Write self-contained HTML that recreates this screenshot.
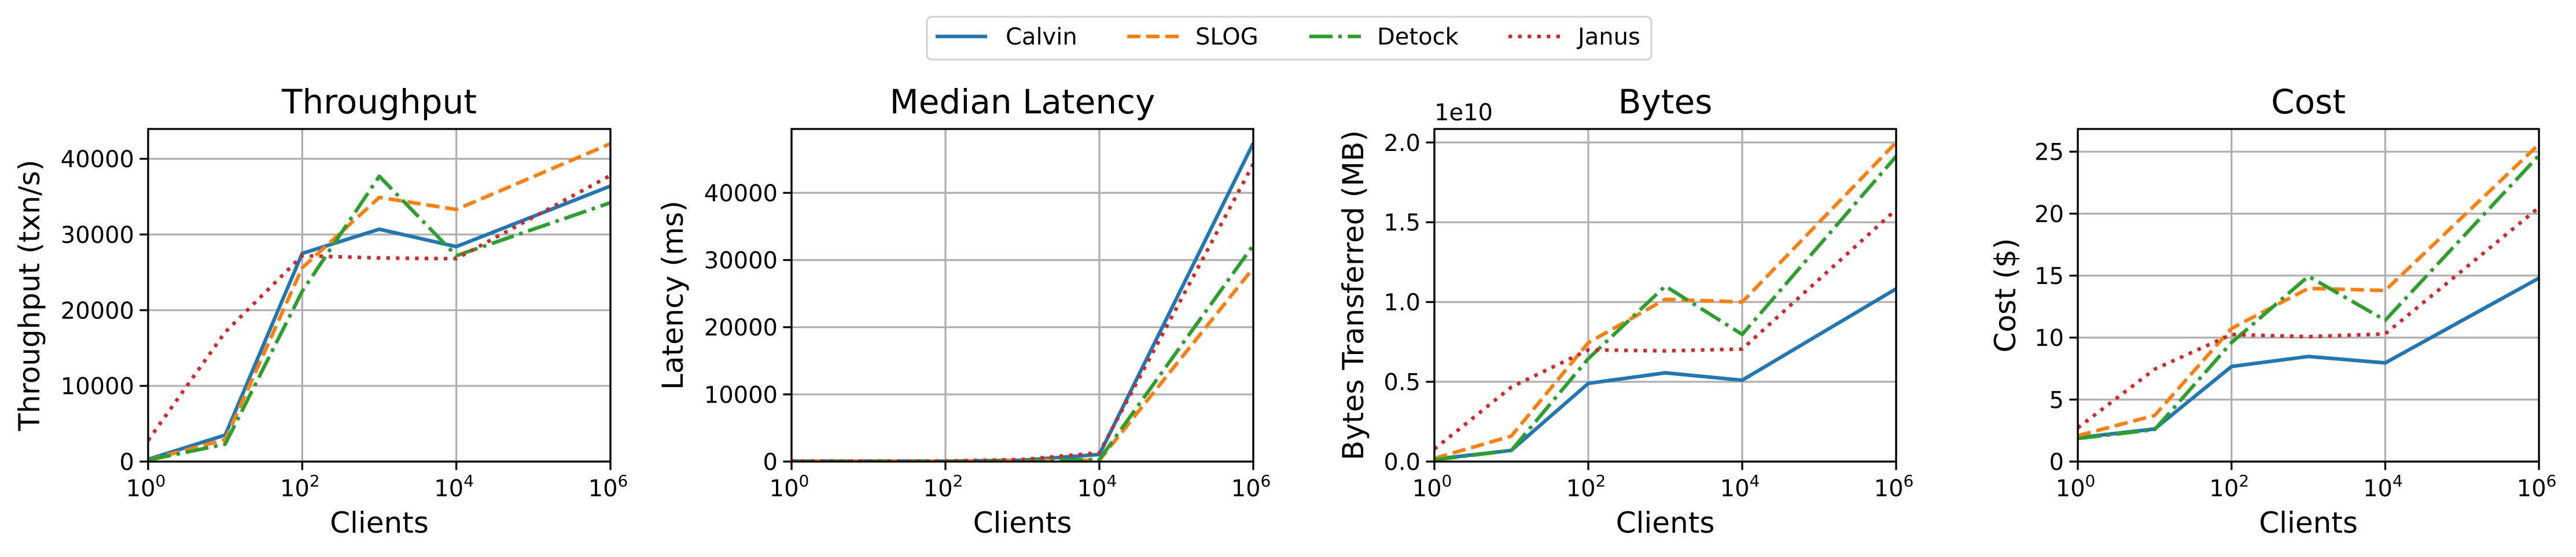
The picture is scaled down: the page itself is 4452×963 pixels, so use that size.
<!DOCTYPE html>
<html><head><meta charset="utf-8">
<style>
html,body{margin:0;padding:0;background:#fff;}
svg{display:block;font-family:"DejaVu Sans","Liberation Sans",sans-serif;}
</style></head>
<body>
<svg id="fig" width="4452" height="963" viewBox="0 0 4452 963" xmlns="http://www.w3.org/2000/svg">
<rect width="4452" height="963" fill="#fff"/>
<g id="legend">
  <rect x="1602" y="29" width="1252" height="74" rx="8" fill="#fff" stroke="#d4d4d4" stroke-width="3.3"/>
</g>
</svg>
<script>
const NS="http://www.w3.org/2000/svg";
const svg=document.getElementById('fig');
const clients=[1,10,100,1000,10000,1000000];
const seriesNames=["Calvin","SLOG","Detock","Janus"];
const thrCalvin=[300,3500,27500,30700,28400,36400];
const thrSlog=[200,2900,25600,34900,33300,42000];
const thrDetock=[200,2300,22500,37700,27200,34200];
const thrJanus=[2800,17100,27200,26900,26800,37800];
const latCalvin=[60,60,70,200,1050,47400];
const latSlog=[50,50,60,150,200,28800];
const latDetock=[50,50,60,150,300,32200];
const latJanus=[60,60,80,300,1300,44300];
const bytCalvin=[0.015,0.07,0.49,0.556,0.51,1.083];
const bytSlog=[0.02,0.16,0.745,1.017,1.0,2.0];
const bytDetock=[0.01,0.07,0.645,1.10,0.797,1.913];
const bytJanus=[0.078,0.467,0.70,0.694,0.705,1.58];
const costCalvin=[1.92,2.63,7.67,8.48,7.96,14.8];
const costSlog=[2.09,3.72,10.74,13.97,13.8,25.6];
const costDetock=[1.86,2.58,9.6,14.95,11.4,24.7];
const costJanus=[2.72,7.45,10.25,10.08,10.3,20.5];
const thrTicks=[0,10000,20000,30000,40000];
const thrTickLabels=["0","10000","20000","30000","40000"];
const latTicks=[0,10000,20000,30000,40000];
const latTickLabels=["0","10000","20000","30000","40000"];
const bytTicks=[0,0.5,1.0,1.5,2.0];
const bytTickLabels=["0.0","0.5","1.0","1.5","2.0"];
const costTicks=[0,5,10,15,20,25];
const costTickLabels=["0","5","10","15","20","25"];
const xTickExps=[0,2,4,6];

const colors=["#1f77b4","#ff7f0e","#2ca02c","#d62728"];
const dashes=["","23,10","40,10,6.25,10","6.25,10.3"];
const TOP=223,BOT=798;

function el(tag,attrs,parent){const e=document.createElementNS(NS,tag);for(const k in attrs)e.setAttribute(k,attrs[k]);(parent||svg).appendChild(e);return e;}

const panels=[
 {key:"throughput",title:"Throughput",ylabel:"Throughput (txn/s)",left:256,right:1055,ymax:43940,ticks:thrTicks,tl:thrTickLabels,data:[thrCalvin,thrSlog,thrDetock,thrJanus],ylx:51},
 {key:"latency",title:"Median Latency",ylabel:"Latency (ms)",left:1368,right:2166,ymax:49510,ticks:latTicks,tl:latTickLabels,data:[latCalvin,latSlog,latDetock,latJanus],ylx:1163},
 {key:"bytes",title:"Bytes",ylabel:"Bytes Transferred (MB)",left:2479,right:3277,ymax:2.0845,ticks:bytTicks,tl:bytTickLabels,data:[bytCalvin,bytSlog,bytDetock,bytJanus],ylx:2339,offset:"1e10"},
 {key:"cost",title:"Cost",ylabel:"Cost ($)",left:3591,right:4388,ymax:26.83,ticks:costTicks,tl:costTickLabels,data:[costCalvin,costSlog,costDetock,costJanus],ylx:3466}
];

panels.forEach(p=>{
  const g=el('g',{});
  
  
  const xs=v=>p.left+(Math.log10(v)/6)*(p.right-p.left);
  const ys=v=>BOT-(v/p.ymax)*(BOT-TOP);
  // grid
  xTickExps.forEach(e=>{
    const x=xs(Math.pow(10,e));
    const l=el('line',{x1:x,x2:x,y1:TOP,y2:BOT,stroke:"#b0b0b0","stroke-width":3.3},g);
    
    
  });
  p.ticks.forEach(t=>{
    const y=ys(t);
    const l=el('line',{x1:p.left,x2:p.right,y1:y,y2:y,stroke:"#b0b0b0","stroke-width":3.3},g);
    
    
  });
  // series
  const cp=el('clipPath',{id:'clip-'+p.key},g);
  el('rect',{x:p.left,y:TOP,width:p.right-p.left,height:BOT-TOP},cp);
  p.data.forEach((arr,i)=>{
    const pts=arr.map((v,j)=>xs(clients[j]).toFixed(1)+","+ys(v).toFixed(1)).join(" ");
    const a={points:pts,fill:"none",stroke:colors[i],"stroke-width":6.25,"stroke-linejoin":"round","clip-path":"url(#clip-"+p.key+")"};
    if(dashes[i])a["stroke-dasharray"]=dashes[i];
    const pl=el('polyline',a,g);
    
    
  });
  // spines
  const sp=el('rect',{x:p.left,y:TOP,width:p.right-p.left,height:BOT-TOP,fill:"none",stroke:"#000","stroke-width":3.3},g);
  
  
  // x ticks
  xTickExps.forEach(e=>{
    const x=xs(Math.pow(10,e));
    el('line',{x1:x,x2:x,y1:BOT,y2:BOT+14.6,stroke:"#000","stroke-width":3.3},g);
    const t=el('text',{x:x-4,y:858,"font-size":40,"text-anchor":"middle"},g);
    
    
    t.textContent="10";
    const s=el('tspan',{dy:-17,"font-size":28},t);
    s.textContent=String(e);
  });
  // y ticks
  p.ticks.forEach((tv,k)=>{
    const y=ys(tv);
    el('line',{x1:p.left-14.6,x2:p.left,y1:y,y2:y,stroke:"#000","stroke-width":3.3},g);
    const t=el('text',{x:p.left-24,y:y+14.5,"font-size":40,"text-anchor":"end"},g);
    
    
    t.textContent=p.tl[k];
  });
  const ti=el('text',{x:(p.left+p.right)/2,y:196,"font-size":58,"text-anchor":"middle"},g);
  
  
  ti.textContent=p.title;
  const xl=el('text',{x:(p.left+p.right)/2,y:921,"font-size":50,"text-anchor":"middle"},g);
  
  
  xl.textContent="Clients";
  const cy=(TOP+BOT)/2;
  const yl=el('text',{x:p.ylx,y:cy,"font-size":50,"text-anchor":"middle","dominant-baseline":"central",transform:"rotate(-90 "+p.ylx+" "+cy+")"},g);
  
  
  yl.textContent=p.ylabel;
  if(p.offset){
    const o=el('text',{x:p.left,y:208,"font-size":40},g);
    
    
    o.textContent=p.offset;
  }
});

// legend
const lg=document.getElementById('legend');
const legX=[1617,1948,2263,2607];
const legTX=[1738,2066,2380,2727];
seriesNames.forEach((n,i)=>{
  const eg=el('g',{},lg);
  
  
  const a={x1:legX[i],x2:legX[i]+89,y1:63,y2:63,stroke:colors[i],"stroke-width":6.25};
  if(dashes[i])a["stroke-dasharray"]=dashes[i];
  el('line',a,eg);
  const t=el('text',{x:legTX[i],y:77,"font-size":40},eg);
  t.textContent=n;
});
</script>
</body></html>
